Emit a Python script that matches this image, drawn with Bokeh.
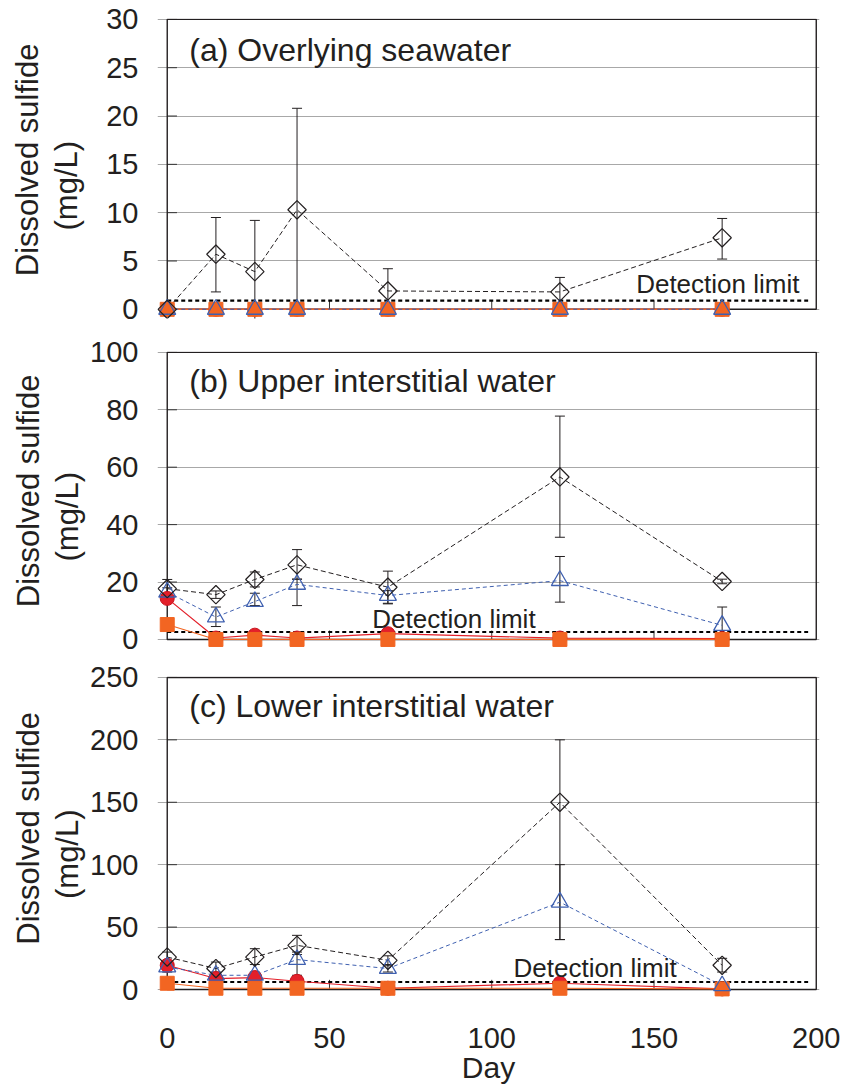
import numpy as np
from bokeh.plotting import figure
from bokeh.models import (Range1d, FixedTicker, Whisker, TeeHead,
                          ColumnDataSource, Label)
from bokeh.layouts import column
from bokeh.embed import file_html
from bokeh.resources import INLINE

# ---------------- data ----------------
days = [0, 15, 27, 40, 68, 121, 171]
x_ticks = [0, 50, 100, 150, 200]
x_inner_ticks = [50, 100, 150]

# (a) Overlying seawater
a_diamond = [0.0, 5.7, 3.9, 10.3, 1.9, 1.8, 7.4]
a_diamond_hi = [0.0, 9.5, 9.2, 20.8, 4.2, 3.3, 9.4]
a_diamond_lo = [0.0, 1.8, -1.4, 0.0, 0.0, 0.5, 5.2]
a_triangle = [0, 0, 0, 0, 0, 0, 0]
a_red = [0, 0, 0, 0, 0, 0, 0]
a_orange = [0, 0, 0, 0, 0, 0, 0]
a_detect = 0.9
a_yticks = [0, 5, 10, 15, 20, 25, 30]

# (b) Upper interstitial water
b_diamond = [17.7, 15.6, 20.9, 26.0, 18.2, 56.6, 20.2]
b_diamond_hi = [20.9, 16.9, 23.5, 31.3, 23.8, 77.8, 21.0]
b_diamond_lo = [14.5, 14.3, 18.3, 21.0, 12.6, 35.6, 19.4]
b_triangle = [16.5, 7.8, 13.2, 19.2, 15.3, 20.5, 4.9]
b_triangle_hi = [18.0, 11.3, 16.1, 21.0, 17.0, 28.9, 11.3]
b_triangle_lo = [15.0, 4.5, 11.8, 11.8, 12.4, 13.0, 1.0]
b_red = [14.3, 0.5, 1.5, 0.5, 2.0, 0.5, 0.3]
b_orange = [5.2, 0, 0, 0, 0, 0, 0]
b_detect = 2.6
b_yticks = [0, 20, 40, 60, 80, 100]

# (c) Lower interstitial water
c_diamond = [26.0, 16.8, 26.0, 35.4, 23.4, 150.0, 19.4]
c_diamond_hi = [30.0, 22.0, 32.7, 43.4, 27.0, 200.0, 25.0]
c_diamond_lo = [22.0, 12.0, 20.0, 28.0, 19.0, 40.0, 14.0]
c_triangle = [18.0, 11.4, 11.4, 24.0, 16.8, 70.0, 3.0]
c_triangle_hi = [22.0, 14.0, 14.0, 30.0, 20.0, 100.0, 5.0]
c_triangle_lo = [14.0, 9.0, 9.0, 11.4, 14.0, 40.0, 1.0]
c_red = [19.4, 8.8, 9.6, 6.6, 1.0, 5.0, 0.5]
c_orange = [5.0, 1.0, 1.0, 1.0, 1.0, 1.0, 0.5]
c_detect = 6.0
c_yticks = [0, 50, 100, 150, 200, 250]

detect_x = [0, 197.5]

# ---------------- style ----------------
FONT = "Liberation Sans"
TXT = "#231f20"
RED = "#e3202a"
ORANGE = "#f26522"
BLUE = "#3f60b0"
GRID = "#a8a8a8"
WIDTH = 840
NB = "\u00a0"
Y_LABEL = NB * 2 + "Dissolved sulfide\n(mg/L)" + NB * 4


def make_panel(title, diamond, d_hi, d_lo, tri, t_hi, t_lo, red, orange,
               detect, det_pos, yticks, ylow, title_pos, height, top_b,
               bottom_b, label_standoff, show_x_labels):
    ymax = yticks[-1]
    p = figure(width=WIDTH, height=height, output_backend="svg",
               toolbar_location=None,
               x_range=Range1d(-3, 201),
               y_range=Range1d(ylow, ymax * 1.003),
               x_axis_location="below" if show_x_labels else None,
               min_border_left=157, min_border_right=WIDTH - 819,
               min_border_top=top_b, min_border_bottom=bottom_b)
    p.title.visible = False
    p.outline_line_color = None
    p.background_fill_color = "white"
    p.border_fill_color = "white"

    # grid
    p.xgrid.visible = False
    p.ygrid.ticker = FixedTicker(ticks=yticks)
    p.ygrid.grid_line_color = GRID
    p.ygrid.grid_line_width = 1

    # y axis (labels)
    ya = p.yaxis[0]
    ya.ticker = FixedTicker(ticks=yticks)
    ya.axis_line_color = None
    ya.major_tick_line_color = None
    ya.minor_tick_line_color = None
    ya.major_label_text_font = FONT
    ya.major_label_text_font_size = "29px"
    ya.major_label_text_color = TXT
    ya.major_label_standoff = 13
    ya.axis_label = Y_LABEL
    ya.axis_label_text_font = FONT
    ya.axis_label_text_font_size = "31px"
    ya.axis_label_text_font_style = "normal"
    ya.axis_label_text_color = TXT
    ya.axis_label_text_line_height = 1.12
    ya.axis_label_standoff = label_standoff

    # x axis (only bottom panel carries labels)
    if show_x_labels:
        xa = p.xaxis[0]
        xa.ticker = FixedTicker(ticks=x_ticks)
        xa.axis_line_color = None
        xa.major_tick_line_color = None
        xa.minor_tick_line_color = None
        xa.major_label_text_font = FONT
        xa.major_label_text_font_size = "29px"
        xa.major_label_text_color = TXT
        xa.major_label_standoff = 24
        xa.axis_label = "Day"
        xa.axis_label_text_font = FONT
        xa.axis_label_text_font_size = "30px"
        xa.axis_label_text_font_style = "normal"
        xa.axis_label_text_color = TXT
        xa.axis_label_standoff = 0

    # inner tick marks (drawn from the tick lists)
    ylen = 0.031 * ymax
    p.segment(x0=x_inner_ticks, x1=x_inner_ticks,
              y0=[yticks[0]] * len(x_inner_ticks),
              y1=[yticks[0] + ylen] * len(x_inner_ticks),
              line_color="#333333", line_width=1)
    p.segment(x0=[x_ticks[0]] * len(yticks), x1=[x_ticks[0] + 3] * len(yticks),
              y0=yticks, y1=yticks, line_color="#333333", line_width=1)

    # frame box from x=0..200, y=0..ymax
    p.quad(left=[x_ticks[0]], right=[x_ticks[-1]], bottom=[yticks[0]],
           top=[ymax], fill_color=None, line_color="#231f20", line_width=1.4)

    # detection limit
    p.line(detect_x, [detect, detect], line_color="black", line_width=2.2,
           line_dash="4 3")
    p.add_layout(Label(x=det_pos[0], y=det_pos[1], text="Detection limit",
                       text_font=FONT, text_font_size="26px",
                       text_color=TXT, text_baseline="middle"))

    # title
    p.add_layout(Label(x=title_pos[0], y=title_pos[1], text=title,
                       text_font=FONT, text_font_size="32px", text_color=TXT,
                       text_baseline="middle"))

    # error bars
    src_d = ColumnDataSource(dict(x=days, y=diamond, hi=d_hi, lo=d_lo))
    src_t = ColumnDataSource(dict(x=days, y=tri, hi=t_hi, lo=t_lo))
    for src in (src_t, src_d):
        w = Whisker(base="x", upper="hi", lower="lo", source=src,
                    line_color="#231f20", line_width=1,
                    upper_head=TeeHead(size=10, line_color="#231f20", line_width=1),
                    lower_head=TeeHead(size=10, line_color="#231f20", line_width=1))
        p.add_layout(w)

    # lines
    p.line(days, red, line_color=RED, line_width=1.2)
    p.line(days, orange, line_color=ORANGE, line_width=1.2)
    p.line(days, tri, line_color=BLUE, line_width=1, line_dash="4 3")
    p.line(days, diamond, line_color="#231f20", line_width=1, line_dash="5 3")

    # markers
    p.scatter(days, red, marker="circle", size=14, fill_color=RED,
              line_color="#c8141e")
    p.scatter(days, orange, marker="square", size=14, fill_color=ORANGE,
              line_color=ORANGE)
    p.scatter(days, tri, marker="triangle", size=17, fill_color=None,
              line_color=BLUE, line_width=1.3)
    p.scatter(days, diamond, marker="square", angle=np.pi / 4, size=13,
              fill_color=None, line_color="#231f20", line_width=1.2)
    return p


pa = make_panel("(a) Overlying seawater", a_diamond, a_diamond_hi,
                a_diamond_lo, a_triangle, a_triangle, a_triangle, a_red,
                a_orange, a_detect, (144.5, 2.6), a_yticks, -0.95, (6.8, 26.8),
                334, 18, 16, 19, False)
pb = make_panel("(b) Upper interstitial water", b_diamond, b_diamond_hi,
                b_diamond_lo, b_triangle, b_triangle_hi, b_triangle_lo, b_red,
                b_orange, b_detect, (63.2, 7.3), b_yticks, -2.8, (6.8, 89.9),
                328, 17, 15, 2, False)
pc = make_panel("(c) Lower interstitial water", c_diamond, c_diamond_hi,
                c_diamond_lo, c_triangle, c_triangle_hi, c_triangle_lo, c_red,
                c_orange, c_detect, (106.7, 17.0), c_yticks, -6.4, (6.8, 227.0),
                426, 14, 91, 2, True)

layout = column(pa, pb, pc, spacing=0)
open("out.html", "w").write(file_html(layout, INLINE))
